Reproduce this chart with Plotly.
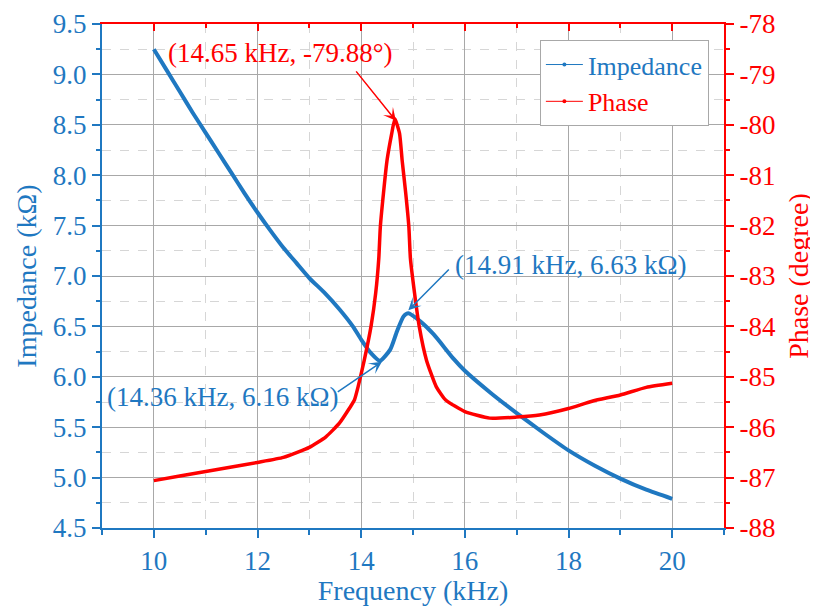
import plotly.graph_objects as go

BLUE = "#1f78c1"
RED = "#ff0000"
FONT = "Liberation Serif"

# Impedance (kΩ) vs frequency (kHz)
imp_freq = [10.0, 10.25, 10.5, 10.75, 11.0, 11.25, 11.5, 11.75, 12.0, 12.25, 12.5, 12.75,
            13.0, 13.3, 13.58, 13.84, 14.0, 14.18, 14.36, 14.56, 14.69, 14.82, 14.91,
            15.14, 15.4, 15.78, 16.0, 16.5, 17.0, 17.5, 18.0, 18.5, 19.0, 19.5, 20.0]
imp_vals = [9.25, 9.04, 8.83, 8.62, 8.42, 8.22, 8.02, 7.82, 7.63, 7.45, 7.28, 7.13,
            6.98, 6.83, 6.67, 6.50, 6.37, 6.24, 6.16, 6.27, 6.45, 6.60, 6.63,
            6.55, 6.42, 6.18, 6.06, 5.84, 5.64, 5.45, 5.27, 5.12, 4.99, 4.88, 4.79]

# Phase (degree) vs frequency (kHz)
ph_freq = [10.0, 10.5, 11.0, 11.5, 12.0, 12.5, 13.0, 13.32, 13.58, 13.77, 13.87, 13.94,
           14.06, 14.19, 14.28, 14.34, 14.37, 14.43, 14.50, 14.59, 14.65, 14.74, 14.79,
           14.86, 14.92, 14.95, 15.03, 15.12, 15.26, 15.45, 15.63, 16.0, 16.48, 17.0,
           17.44, 18.0, 18.47, 19.0, 19.5, 20.0]
ph_vals = [-87.06, -86.97, -86.88, -86.79, -86.70, -86.60, -86.40, -86.19, -85.92, -85.63,
           -85.46, -85.20, -84.67, -84.00, -83.34, -82.65, -82.02, -81.36, -80.70, -80.17,
           -79.88, -80.17, -80.70, -81.36, -82.02, -82.65, -83.34, -84.00, -84.67, -85.20,
           -85.46, -85.69, -85.82, -85.80, -85.76, -85.63, -85.48, -85.36, -85.21, -85.13]

# Right-axis tick labels
ph_ticks = [-88, -87, -86, -85, -84, -83, -82, -81, -80, -79, -78]
ph_ticklabels = ["-88", "-87", "-86", "-85", "-84", "-83", "-82", "-81", "-80", "-79", "-78"]

fig = go.Figure()
fig.add_trace(go.Scatter(x=imp_freq, y=imp_vals, mode="lines", showlegend=False,
                         line=dict(color=BLUE, width=4, shape="spline", smoothing=0.6),
                         xaxis="x", yaxis="y"))
fig.add_trace(go.Scatter(x=ph_freq, y=ph_vals, mode="lines", showlegend=False,
                         line=dict(color=RED, width=3.5, shape="spline", smoothing=0.5),
                         xaxis="x", yaxis="y2"))
# legend entries
fig.add_trace(go.Scatter(x=[None], y=[None], mode="lines+markers",
                         name="<span style='color:%s'>Impedance</span>" % BLUE,
                         line=dict(color=BLUE, width=1), marker=dict(color=BLUE, size=4),
                         xaxis="x2", yaxis="y"))
fig.add_trace(go.Scatter(x=[None], y=[None], mode="lines+markers",
                         name="<span style='color:%s'>Phase</span>" % RED,
                         line=dict(color=RED, width=1), marker=dict(color=RED, size=4),
                         xaxis="x2", yaxis="y"))

tickfont_b = dict(family=FONT, size=27, color=BLUE)
tickfont_r = dict(family=FONT, size=27, color=RED)

# page body has an 8px margin, so the figure is 8px smaller and margins compensate
fig.update_layout(
    width=810, height=598,
    margin=dict(l=94, r=94, t=16, b=78, autoexpand=False),
    paper_bgcolor="white", plot_bgcolor="white",
    font=dict(family=FONT, size=26),
    xaxis=dict(range=[9, 21], tick0=10, dtick=2, ticks="outside", ticklen=8, tickwidth=2,
               tickcolor=BLUE, showline=True, linecolor=BLUE, linewidth=2, automargin=False,
               showgrid=True, gridcolor="#a8a8a8", gridwidth=1, zeroline=False,
               tickfont=tickfont_b,
               title=dict(text="Frequency (kHz)", font=dict(family=FONT, size=28, color=BLUE), standoff=6),
               minor=dict(dtick=1, ticks="outside", ticklen=5, tickwidth=2, tickcolor=BLUE,
                          showgrid=True, gridcolor="#d6d6d6", griddash="dash", gridwidth=1)),
    xaxis2=dict(range=[9, 21], overlaying="x", side="top", anchor="y", tick0=10, dtick=2,
                ticks="inside", ticklen=7, tickwidth=2, tickcolor=RED, showline=True, automargin=False,
                linecolor=RED, linewidth=2, showticklabels=False, showgrid=False, zeroline=False,
                minor=dict(dtick=1, ticks="inside", ticklen=4, tickwidth=2, tickcolor=RED)),
    yaxis=dict(range=[4.5, 9.5], tick0=4.5, dtick=0.5, tickformat=".1f", ticks="outside",
               ticklen=8, tickwidth=2, tickcolor=BLUE, showline=True, linecolor=BLUE, linewidth=2,
               showgrid=True, gridcolor="#a8a8a8", gridwidth=1, zeroline=False, automargin=False,
               tickfont=tickfont_b,
               title=dict(text="Impedance (kΩ)", font=dict(family=FONT, size=28, color=BLUE), standoff=8),
               minor=dict(dtick=0.25, ticks="outside", ticklen=4, tickwidth=2, tickcolor=BLUE,
                          showgrid=True, gridcolor="#d6d6d6", griddash="dash", gridwidth=1)),
    yaxis2=dict(range=[-88, -78], overlaying="y", side="right", anchor="x",
                tickmode="array", tickvals=ph_ticks, ticktext=ph_ticklabels,
                ticks="outside", ticklen=8, tickwidth=2, tickcolor=RED, showline=True,
                linecolor=RED, linewidth=2, showgrid=False, zeroline=False, automargin=False,
                tickfont=tickfont_r,
                title=dict(text="Phase (degree)", font=dict(family=FONT, size=28, color=RED), standoff=14),
                minor=dict(dtick=0.5, tick0=-88, ticks="outside", ticklen=4, tickwidth=2, tickcolor=RED)),
    legend=dict(x=0.704, y=0.968, xanchor="left", yanchor="top", bgcolor="white",
                bordercolor="#a8a8a8", borderwidth=1, itemwidth=37,
                font=dict(family=FONT, size=26), tracegroupgap=0),
)

ann = []
# text labels
ann.append(dict(x=12.44, y=-78.58, xref="x", yref="y2", text="(14.65 kHz, -79.88°)",
                showarrow=False, font=dict(family=FONT, size=27, color=RED)))
ann.append(dict(x=18.05, y=7.11, xref="x", yref="y", text="(14.91 kHz, 6.63 kΩ)",
                showarrow=False, font=dict(family=FONT, size=27, color=BLUE)))
ann.append(dict(x=11.33, y=5.80, xref="x", yref="y", text="(14.36 kHz, 6.16 kΩ)",
                showarrow=False, font=dict(family=FONT, size=27, color=BLUE)))
# arrows
ann.append(dict(x=14.67, y=-79.92, xref="x", yref="y2", ax=13.88, ay=-78.91, axref="x", ayref="y2",
                text="", showarrow=True, arrowhead=3, arrowsize=1.4, arrowwidth=1.5, arrowcolor=RED))
ann.append(dict(x=14.91, y=6.66, xref="x", yref="y", ax=15.72, ay=7.08, axref="x", ayref="y",
                text="", showarrow=True, arrowhead=3, arrowsize=1.4, arrowwidth=1.5, arrowcolor=BLUE))
ann.append(dict(x=14.40, y=6.15, xref="x", yref="y", ax=13.52, ay=5.84, axref="x", ayref="y",
                text="", showarrow=True, arrowhead=3, arrowsize=1.4, arrowwidth=1.5, arrowcolor=BLUE))
fig.update_layout(annotations=ann)

fig.write_html("out.html")
